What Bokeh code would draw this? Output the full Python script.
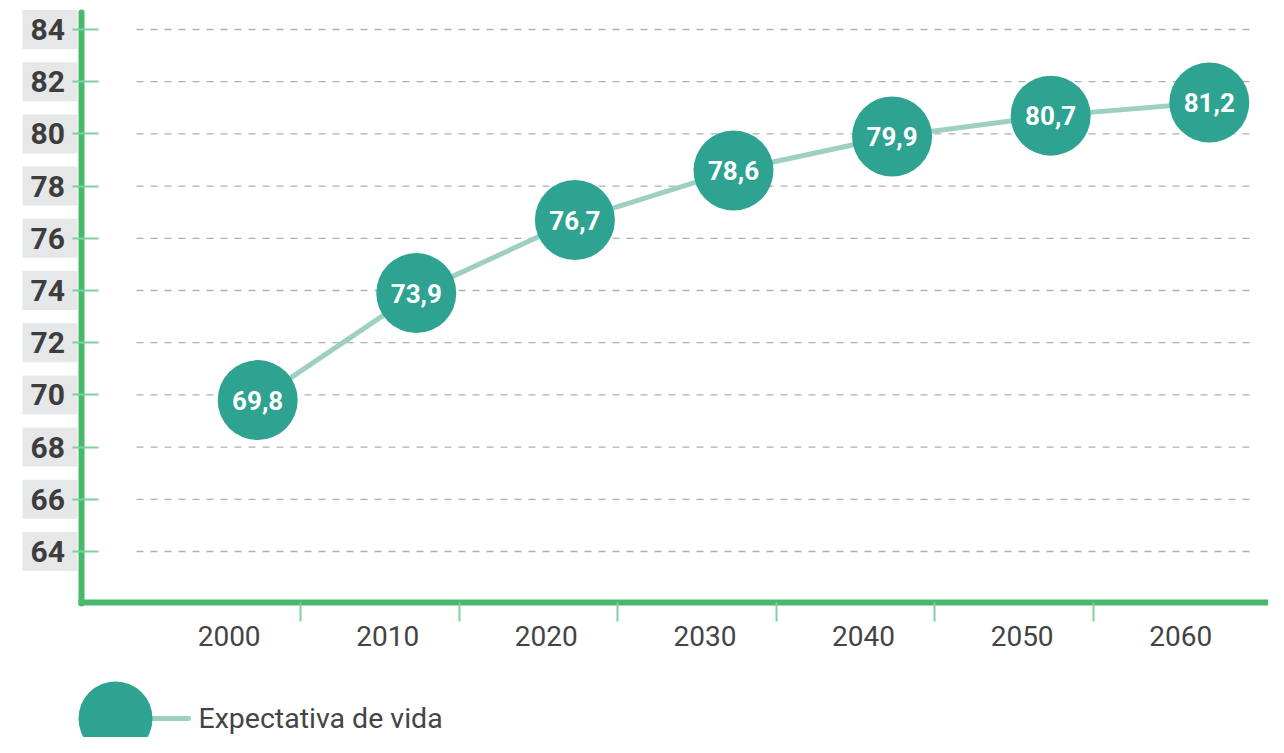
from bokeh.plotting import figure
from bokeh.models import Range1d, LinearAxis, FixedTicker, ColumnDataSource
from bokeh.core.properties import value
from bokeh.embed import file_html
from bokeh.resources import INLINE

# ---- data ----
years = ["2000", "2010", "2020", "2030", "2040", "2050", "2060"]
expectativa = [69.8, 73.9, 76.7, 78.6, 79.9, 80.7, 81.2]
y_ticks = [64, 66, 68, 70, 72, 74, 76, 78, 80, 82, 84]
serie_nome = "Expectativa de vida"

# ---- styling ----
TEAL = "#2ea391"
LINE_TEAL = "#9dcfc3"
GREEN = "#48b96a"
TICK_GREEN = "#7fd19a"
DARK = "#444444"
BOX_GREY = "#e6e7e8"
FONT = "Roboto"

W, H = 1268, 737
p = figure(width=W, height=H, output_backend="svg", toolbar_location=None,
           x_axis_location=None, y_axis_location=None,
           x_range=Range1d(-1.3916, 6.6034), y_range=Range1d(56.874, 85.111),
           min_border=0, outline_line_color=None)
p.grid.visible = False
# pixel-space ranges for decorations
p.extra_x_ranges = {"px": Range1d(0, W)}
p.extra_y_ranges = {"px": Range1d(H, 0)}

idx = list(range(len(years)))
pt_x = [i + 0.23 for i in idx]
labels = [f"{v:.1f}".replace(".", ",") for v in expectativa]
src = ColumnDataSource(dict(x=pt_x, y=expectativa, label=labels))

# grey label boxes
p.rect(x=49.5, y=y_ticks, width=55, height=39, width_units="screen",
       height_units="screen", fill_color=BOX_GREY, line_color=None,
       x_range_name="px")

# dashed gridlines
p.segment(x0=136, x1=1252, y0=y_ticks, y1=y_ticks, line_color="#b0b0b0",
          line_width=1.3, line_dash="7 7", x_range_name="px")

# y axis
yax = LinearAxis(ticker=FixedTicker(ticks=y_ticks, minor_ticks=[]))
yax.fixed_location = -0.878
yax.bounds = (62.0, 84.65)
yax.axis_line_color = GREEN
yax.axis_line_width = 6
yax.axis_line_cap = "round"
yax.major_tick_in = 17
yax.major_tick_out = 9
yax.major_tick_line_color = TICK_GREEN
yax.major_tick_line_width = 2
yax.minor_tick_line_color = None
yax.major_label_standoff = 8
yax.major_label_text_font = FONT
yax.major_label_text_font_style = "bold"
yax.major_label_text_font_size = "30px"
yax.major_label_text_color = "#3d3d3d"
p.add_layout(yax, "left")

# x axis
xax = LinearAxis(ticker=FixedTicker(ticks=[i + 0.05 for i in idx],
                                    minor_ticks=[i + 0.5 for i in idx[:-1]]))
xax.major_label_overrides = {i + 0.05: y for i, y in zip(idx, years)}
xax.fixed_location = 62.03
xax.bounds = (-0.90, 6.66)
xax.axis_line_color = GREEN
xax.axis_line_width = 6
xax.major_tick_in = 0
xax.major_tick_out = 0
xax.minor_tick_in = 0
xax.minor_tick_out = 19
xax.minor_tick_line_color = TICK_GREEN
xax.minor_tick_line_width = 2
xax.major_label_standoff = 4
xax.major_label_text_font = FONT
xax.major_label_text_font_size = "28px"
xax.major_label_text_color = DARK
p.add_layout(xax, "below")

# series
p.line("x", "y", source=src, line_color=LINE_TEAL, line_width=5)
p.scatter("x", "y", source=src, size=80, fill_color=TEAL, line_color=None)
p.text("x", "y", text="label", source=src, text_color="white",
       text_font=value(FONT), text_font_style="bold", text_font_size="26px",
       text_align="center", text_baseline="middle")

# legend (drawn in pixel space)
p.segment(x0=150, x1=188, y0=718, y1=718, line_color=LINE_TEAL, line_width=5,
          line_cap="round", x_range_name="px", y_range_name="px")
p.scatter(x=115, y=718, size=74, fill_color=TEAL, line_color=None,
          x_range_name="px", y_range_name="px")
p.text(x=198, y=718, text=[serie_nome], text_color=DARK, text_font=value(FONT),
       text_font_size="28.5px", text_align="left", text_baseline="middle",
       x_range_name="px", y_range_name="px")

open("out.html", "w").write(file_html(p, INLINE))
